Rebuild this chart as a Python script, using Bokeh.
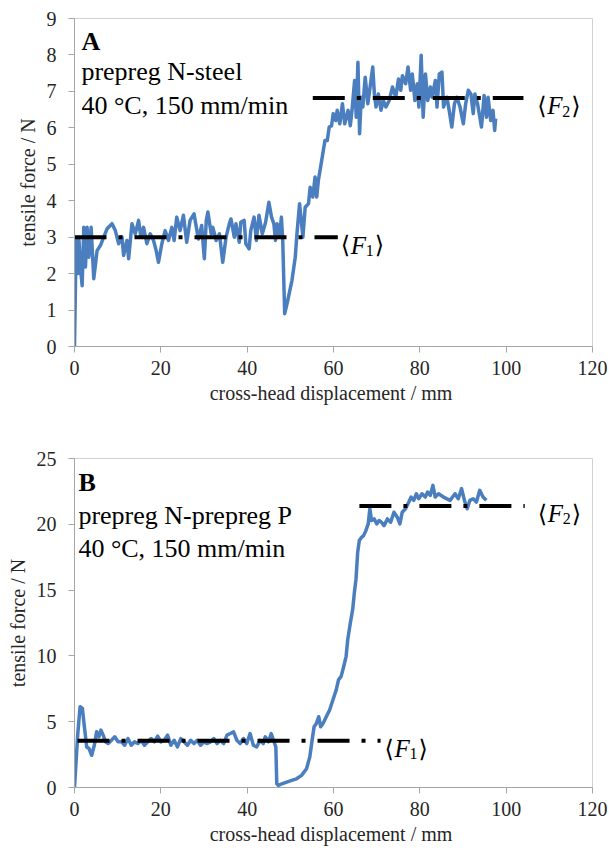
from bokeh.plotting import figure
from bokeh.layouts import column
from bokeh.models import Label, Range1d, FixedTicker
from bokeh.embed import file_html
from bokeh.resources import INLINE

# ---------------- data ----------------
x_ticks = [0, 20, 40, 60, 80, 100, 120]
a_y_ticks = [0, 1, 2, 3, 4, 5, 6, 7, 8, 9]
b_y_ticks = [0, 5, 10, 15, 20, 25]

a_x = [0.0, 0.38, 0.77, 1.0, 1.38, 1.77, 2.15, 2.54, 2.92, 3.31,
       3.85, 4.46, 5.23, 6.0, 6.77, 7.54, 8.69, 9.46, 10.23, 11.0,
       11.38, 12.15, 12.54, 13.31, 14.08, 14.85, 15.38, 16.0, 16.77, 17.54,
       18.31, 18.92, 19.46, 20.23, 21.0, 21.77, 22.54, 23.08, 23.69, 24.46,
       25.23, 26.0, 26.77, 27.69, 28.69, 29.46, 30.08, 30.53, 30.9, 31.67,
       32.05, 32.82, 33.58, 34.34, 35.11, 35.87, 36.25, 37.02, 37.4, 38.16,
       38.54, 39.31, 39.69, 40.45, 40.83, 41.6, 42.13, 42.74, 43.5, 44.27,
       45.03, 45.64, 46.18, 46.56, 46.94, 47.47, 47.93, 48.24, 48.69, 49.23,
       50.37, 51.14, 51.53, 52.14, 52.91, 53.44, 54.21, 54.59, 55.2, 55.73,
       56.11, 56.5, 57.26, 57.64, 58.02, 58.56, 59.01, 59.55, 59.93, 60.54,
       60.85, 61.46, 62.07, 62.6, 63.37, 63.9, 64.36, 64.89, 65.27, 65.66,
       66.04, 66.42, 66.8, 67.34, 67.95, 68.48, 69.09, 69.47, 69.85, 70.39,
       71.0, 71.53, 72.14, 72.91, 73.67, 74.43, 75.05, 75.58, 75.96, 76.72,
       77.26, 77.87, 78.25, 78.86, 79.4, 79.78, 80.31, 80.77, 81.3, 81.84,
       82.45, 82.83, 83.6, 83.98, 84.51, 85.12, 85.5, 86.27, 86.8, 87.41,
       88.02, 88.56, 89.32, 90.08, 90.62, 91.23, 91.84, 92.37, 92.75, 93.37,
       93.9, 94.28, 94.89, 95.43, 95.81, 96.42, 96.95, 97.34, 97.56]
a_force = [0.0, 2.91, 2.0, 3.0, 2.18, 1.67, 3.27, 2.18, 3.27, 2.45,
           3.27, 1.86, 2.63, 2.77, 3.0, 3.23, 3.37, 3.18, 2.82, 3.0,
           2.5, 2.91, 2.41, 3.37, 3.09, 3.46, 3.0, 3.27, 2.82, 3.09,
           2.91, 2.63, 2.31, 2.82, 3.18, 2.91, 3.27, 2.91, 3.55, 3.18,
           3.6, 2.86, 3.46, 3.64, 2.95, 3.32, 2.41, 3.46, 3.69, 3.09,
           3.27, 2.91, 3.09, 2.31, 3.0, 3.37, 3.5, 3.0, 3.37, 2.86,
           3.41, 3.46, 2.82, 2.68, 3.18, 3.55, 2.91, 3.6, 3.09, 3.41,
           3.96, 3.55, 3.37, 2.91, 3.37, 3.0, 3.55, 2.91, 0.9, 1.17,
           1.81, 2.45, 3.09, 3.92, 3.0, 3.82, 3.92, 4.37, 4.1, 4.65,
           4.1, 4.56, 5.1, 5.38, 5.65, 5.65, 6.02, 6.06, 6.39, 6.2,
           6.48, 6.11, 6.66, 6.11, 6.48, 6.06, 6.57, 7.3, 6.29, 7.8,
           5.84, 6.84, 6.57, 7.39, 6.66, 7.12, 7.67, 6.93, 6.57, 6.93,
           6.48, 6.75, 6.57, 6.75, 7.12, 6.84, 7.34, 7.03, 7.43, 7.21,
           7.67, 7.03, 7.48, 6.75, 7.21, 6.57, 7.99, 6.29, 7.48, 6.75,
           7.12, 6.84, 7.3, 6.57, 7.48, 7.53, 6.57, 6.84, 6.48, 6.02,
           6.66, 6.84, 6.57, 6.11, 6.66, 7.03, 6.93, 6.39, 6.93, 6.66,
           6.29, 6.02, 6.89, 6.29, 6.84, 6.2, 6.48, 5.93, 6.25]

b_x = [0.0, 0.76, 1.3, 1.83, 2.29, 2.83, 3.36, 3.98, 4.59, 5.12,
       5.66, 6.12, 6.65, 7.19, 7.8, 8.56, 9.33, 10.09, 10.86, 11.62,
       12.39, 13.15, 13.91, 14.68, 15.44, 16.21, 16.97, 17.74, 18.5, 19.27,
       20.03, 20.8, 21.56, 22.32, 23.09, 23.85, 24.62, 25.38, 26.15, 26.91,
       27.68, 28.44, 29.2, 29.97, 30.73, 31.5, 32.26, 33.03, 33.79, 34.56,
       35.32, 36.09, 36.85, 37.61, 38.38, 39.14, 39.91, 40.67, 41.44, 42.2,
       42.97, 43.73, 44.19, 44.95, 45.57, 46.1, 46.64, 46.86, 47.25, 48.01,
       49.16, 50.31, 51.45, 52.6, 53.75, 54.51, 55.04, 55.5, 56.04, 56.57,
       57.03, 57.57, 58.33, 59.1, 59.86, 60.63, 61.16, 61.77, 62.38, 62.92,
       63.3, 63.91, 64.45, 64.83, 65.21, 65.6, 65.98, 66.51, 66.97, 67.5,
       68.04, 68.42, 68.81, 69.42, 70.03, 70.57, 71.1, 71.71, 72.48, 73.24,
       74.0, 74.77, 75.38, 75.92, 76.68, 77.45, 77.98, 78.59, 79.2, 79.74,
       80.5, 81.27, 81.8, 82.42, 83.03, 83.56, 84.33, 85.47, 87.0, 88.15,
       88.91, 89.67, 90.44, 90.97, 91.59, 92.35, 93.11, 93.88, 94.64, 95.41]
b_force = [0.0, 4.1, 6.14, 6.01, 4.61, 3.08, 2.96, 2.45, 3.21, 4.23,
           3.85, 4.36, 3.98, 3.47, 3.34, 3.59, 3.85, 3.47, 3.47, 3.21,
           3.72, 3.21, 3.47, 3.34, 3.59, 3.21, 3.47, 3.72, 3.47, 3.9,
           3.47, 3.59, 3.98, 3.21, 3.59, 3.08, 3.72, 3.47, 3.21, 3.59,
           3.34, 3.59, 3.21, 3.47, 3.34, 3.47, 3.72, 3.34, 3.59, 3.34,
           3.98, 4.1, 4.23, 3.59, 3.34, 3.72, 3.34, 4.1, 3.21, 3.08,
           3.59, 3.34, 3.85, 3.47, 4.1, 3.59, 3.08, 0.28, 0.15, 0.28,
           0.41, 0.54, 0.66, 0.92, 1.43, 2.32, 3.59, 4.61, 4.87, 5.38,
           4.61, 4.87, 5.38, 5.89, 6.65, 7.42, 8.18, 8.44, 9.21, 9.97,
           11.24, 12.52, 13.54, 14.81, 15.83, 17.87, 18.76, 19.01, 19.14, 19.52,
           20.03, 21.18, 20.29, 20.41, 20.03, 20.29, 20.16, 19.9, 20.41, 20.16,
           20.92, 20.54, 20.03, 20.92, 21.18, 21.69, 22.07, 21.82, 22.32, 21.94,
           22.32, 22.07, 22.45, 22.2, 22.96, 22.07, 22.32, 22.07, 21.82, 22.32,
           21.94, 22.71, 21.69, 21.18, 21.82, 21.94, 21.69, 22.58, 22.07, 21.82]

# mean force levels (dash-dot reference lines)
a_f1_x = [0.0, 61.0]
a_f1_y = [3.0, 3.0]
a_f2_x = [55.2, 104.0]
a_f2_y = [6.82, 6.82]
b_f1_x = [0.7, 70.9]
b_f1_y = [3.55, 3.55]
b_f2_x = [66.0, 104.3]
b_f2_y = [21.4, 21.4]

SERIF = "Liberation Serif"
BLUE = "#4a7ebf"
AXIS_GRAY = "#a6a6a6"


def style(p, yticks):
    p.grid.visible = False
    p.outline_line_color = "#d0d0d0"
    p.outline_line_width = 1
    p.xaxis.ticker = FixedTicker(ticks=x_ticks)
    p.yaxis.ticker = FixedTicker(ticks=yticks)
    for ax in (p.xaxis, p.yaxis):
        ax.axis_line_color = AXIS_GRAY
        ax.major_tick_line_color = AXIS_GRAY
        ax.major_tick_out = 6
        ax.major_tick_in = 0
        ax.minor_tick_out = 0
        ax.minor_tick_in = 0
        ax.major_label_text_font = SERIF
        ax.major_label_text_font_size = "20px"
        ax.major_label_text_color = "#262626"
        ax.axis_label_text_font = SERIF
        ax.axis_label_text_font_size = "20px"
        ax.axis_label_text_font_style = "normal"
        ax.axis_label_text_color = "#262626"
    p.xaxis.major_label_standoff = 8
    p.yaxis.major_label_standoff = 12
    p.xaxis.axis_label_standoff = 4
    p.yaxis.axis_label_standoff = 5
    p.xaxis.axis_label = "cross-head displacement  / mm"
    p.yaxis.axis_label = "tensile force / N"


def text(p, x, y, s, size="26px", style_="normal", font=SERIF, xoff=0):
    p.add_layout(Label(x=x, y=y, text=s, x_offset=xoff, text_font=font,
                       text_font_size=size, text_font_style=style_,
                       text_color="black", text_baseline="alphabetic",
                       text_align="left"))


def flabel(p, x, y, ysub, sub):
    text(p, x, y, "\u27e8", size="24px", font="DejaVu Serif")
    text(p, x, y, "F", size="25px", style_="italic", xoff=10)
    text(p, x, ysub, sub, size="16px", xoff=25)
    text(p, x, y, "\u27e9", size="24px", font="DejaVu Serif", xoff=34)


W = 608

# ---------------- panel A ----------------
pA = figure(width=W, height=420, output_backend="svg", toolbar_location=None,
            x_range=Range1d(0, 120), y_range=Range1d(0, 9),
            min_border_left=68, min_border_right=W - 592, min_border_top=18,
            min_border_bottom=74)
style(pA, a_y_ticks)
pA.line(a_x, a_force, line_color=BLUE, line_width=3.5, line_join="round")
for fx, fy in ((a_f1_x, a_f1_y), (a_f2_x, a_f2_y)):
    pA.line(fx, fy, line_color="black", line_width=4, line_dash="32 12 4 12")
text(pA, 1.6, 8.38, "A", style_="bold")
text(pA, 1.6, 7.55, "prepreg N-steel")
text(pA, 1.6, 6.62, "40 \u00b0C, 150 mm/min")
flabel(pA, 61.7, 2.78, 2.64, "1")
flabel(pA, 107.2, 6.6, 6.46, "2")

# ---------------- panel B ----------------
pB = figure(width=W, height=434, output_backend="svg", toolbar_location=None,
            x_range=Range1d(0, 120), y_range=Range1d(0, 25),
            min_border_left=74, min_border_right=W - 595, min_border_top=38,
            min_border_bottom=67)
style(pB, b_y_ticks)
pB.line(b_x, b_force, line_color=BLUE, line_width=3.5, line_join="round")
for fx, fy in ((b_f1_x, b_f1_y), (b_f2_x, b_f2_y)):
    pB.line(fx, fy, line_color="black", line_width=4, line_dash="32 12 4 12")
text(pB, 0.9, 23.2, "B", style_="bold")
text(pB, 0.9, 20.67, "prepreg N-prepreg P")
text(pB, 0.9, 18.16, "40 \u00b0C, 150 mm/min")
flabel(pB, 71.8, 2.94, 2.56, "1")
flabel(pB, 107.3, 20.79, 20.41, "2")

layout = column(pA, pB)
open("out.html", "w").write(file_html(layout, INLINE, "tensile force"))
